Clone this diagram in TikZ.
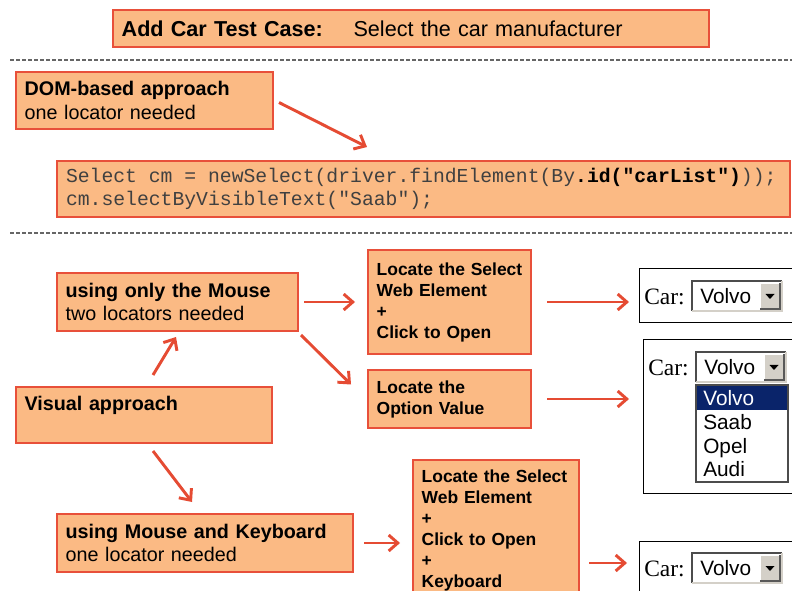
\documentclass[tikz,border=0pt]{standalone}
\usepackage{fontspec}
\setmainfont{Liberation Sans}
\setmonofont{Liberation Mono}
\newfontfamily\serifcar{Liberation Serif}
\usetikzlibrary{arrows.meta,positioning,calc}

\definecolor{boxfill}{HTML}{FBBA84}
\definecolor{boxline}{HTML}{E8503A}
\definecolor{arrowred}{HTML}{E54B33}
\definecolor{codegray}{HTML}{404040}
\definecolor{selnavy}{HTML}{0A246A}
\definecolor{btngray}{HTML}{D4D0C8}

% drop-down field: name, left x, top y
\newcommand{\carselect}[3]{%
  \fill[white] (#2,#3) rectangle ++(90,30);
  \draw[fieldshade] (#2,#3+30) -- (#2,#3) -- (#2+90,#3);
  \draw[fieldlight] (#2,#3+30) -- (#2+90,#3+30) -- (#2+90,#3);
  \fill[btngray] (#2+68,#3+2) rectangle (#2+88,#3+28);
  \draw[white, line width=0.8pt] (#2+68,#3+28) -- (#2+68,#3+2) -- (#2+88,#3+2);
  \draw[gray!70!black, line width=0.8pt] (#2+68,#3+28) -- (#2+88,#3+28) -- (#2+88,#3+2);
  \fill (#2+73.5,#3+13) -- (#2+82.5,#3+13) -- (#2+78,#3+18) -- cycle;
  \node[field, anchor=west] (#1val) at (#2+8,#3+15.5) {Volvo};
  \node[carlabel, anchor=east] (#1lab) at (#2-7,#3+15.5) {Car:};
}

\begin{document}
\begin{tikzpicture}[
    x=0.75pt, y=-0.75pt,
    box/.style={draw=boxline, fill=boxfill, line width=1.5pt, anchor=north west, align=left, inner xsep=6.5pt, inner ysep=0pt},
    big/.style={font=\fontsize{14.8}{17.5}\selectfont},
    small/.style={font=\fontsize{13.1}{15.75}\selectfont\bfseries},
    code/.style={font=\ttfamily\fontsize{14.8}{17}\selectfont, text=codegray, inner xsep=6.75pt},
    flow/.style={draw=arrowred, line width=2.2pt, -{Straight Barb[length=2.4mm,width=4.2mm]}},
    sepline/.style={draw=gray!80!black, line width=0.9pt, dash pattern=on 3pt off 1.5pt},
    frame/.style={draw=black, line width=0.8pt, anchor=north west, inner sep=0pt},
    field/.style={font=\fontsize{15.6}{18}\selectfont, inner sep=0pt},
    carlabel/.style={font=\serifcar\fontsize{17.6}{20}\selectfont, inner sep=0pt},
    fieldshade/.style={draw=gray!60!black, line width=1.5pt},
    fieldlight/.style={draw=btngray, line width=1.5pt}
]
\useasboundingbox (0,0) rectangle (792,591);
\clip (0,0) rectangle (792,591);

\node[box, font=\fontsize{16.2}{20}\selectfont, text width=434pt, minimum height=27.75pt] (title) at (112,9) {\textbf{Add Car Test Case:}\hspace{23pt}Select the car manufacturer};
\draw[sepline] (10,60) -- (792,60);

% DOM-based part
\node[box, big, text width=179.75pt, minimum height=42.75pt] (dom) at (15,71) {\textbf{DOM-based approach}\\one locator needed};
\node[box, code, text width=536pt, minimum height=42pt] (code) at (56,160) {\spaceskip=0.6em\relax Select cm = newSelect(driver.findElement(By\textbf{\color{black}.id("carList")}));\\cm.selectByVisibleText("Saab");};
\draw[flow] ($(dom.east)+(5,2)$) -- ($(code.north west)+(311,-13)$);
\draw[sepline] (10,233) -- (792,233);

% visual part
\node[box, big, text width=167.75pt, minimum height=43.5pt] (mouse) at (56,272) {\textbf{using only the Mouse}\\two locators needed};
\node[box, big, text width=179pt, minimum height=42pt] (visual) at (15,386) {\textbf{Visual approach}\\\mbox{}};
\node[box, big, text width=209pt, minimum height=43.5pt] (keyb) at (56,513) {\textbf{using Mouse and Keyboard}\\one locator needed};
\node[box, small, text width=109.25pt, minimum height=78pt] (ls1) at (367,249) {Locate the Select\\Web Element\\+\\Click to Open};
\node[box, small, text width=109.25pt, minimum height=42.75pt] (opt) at (367,369.5) {Locate the\\Option Value};
\node[box, small, text width=111.5pt, inner ysep=7.5pt] (kb) at (412,459) {Locate the Select\\Web Element\\+\\Click to Open\\+\\Keyboard};

% browser shots
\node[frame, minimum width=127.5pt, minimum height=40.5pt] (car1) at (639,268) {};
\node[frame, minimum width=124.5pt, minimum height=115.5pt] (car2) at (643,339) {};
\node[frame, minimum width=127.5pt, minimum height=45pt] (car3) at (639,541) {};
\carselect{sela}{692}{281}
\carselect{selb}{696}{352}
\carselect{selc}{692}{553}

% opened list
\draw[fieldshade, line width=1.2pt, fill=white] (696,385) rectangle (788,482);
\fill[selnavy] (697,386) rectangle (787,409.5);
\node[field, text=white, anchor=base west] (optvolvo) at (703,405.5) {Volvo};
\node[field, anchor=base west] (optsaab) at (703,429.5) {Saab};
\node[field, anchor=base west] (optopel) at (703,453.5) {Opel};
\node[field, anchor=base west] (optaudi) at (703,476.5) {Audi};

\draw[flow] ($(visual.north west)+(138,-11)$) -- ($(mouse.south west)+(120,5)$);
\draw[flow] ($(visual.south west)+(138,7)$) -- ($(keyb.north west)+(136,-11)$);
\draw[flow, shorten <=3.75pt, shorten >=9pt] (mouse.east) -- (mouse.east -| ls1.west);
\draw[flow] ($(mouse.south east)+(2,3)$) -- ($(opt.north west)+(-16,15)$);
\draw[flow, shorten <=7.5pt, shorten >=9pt] (keyb.east) -- (keyb.east -| kb.west);
\draw[flow, shorten <=11.25pt, shorten >=7.5pt] (ls1.east) -- (ls1.east -| car1.west);
\draw[flow, shorten <=11.25pt, shorten >=10.5pt] (opt.east) -- (opt.east -| car2.west);
\draw[flow] ($(kb.north east)+(9,104)$) -- ($(car3.north west)+(-12,22)$);
\end{tikzpicture}
\end{document}
